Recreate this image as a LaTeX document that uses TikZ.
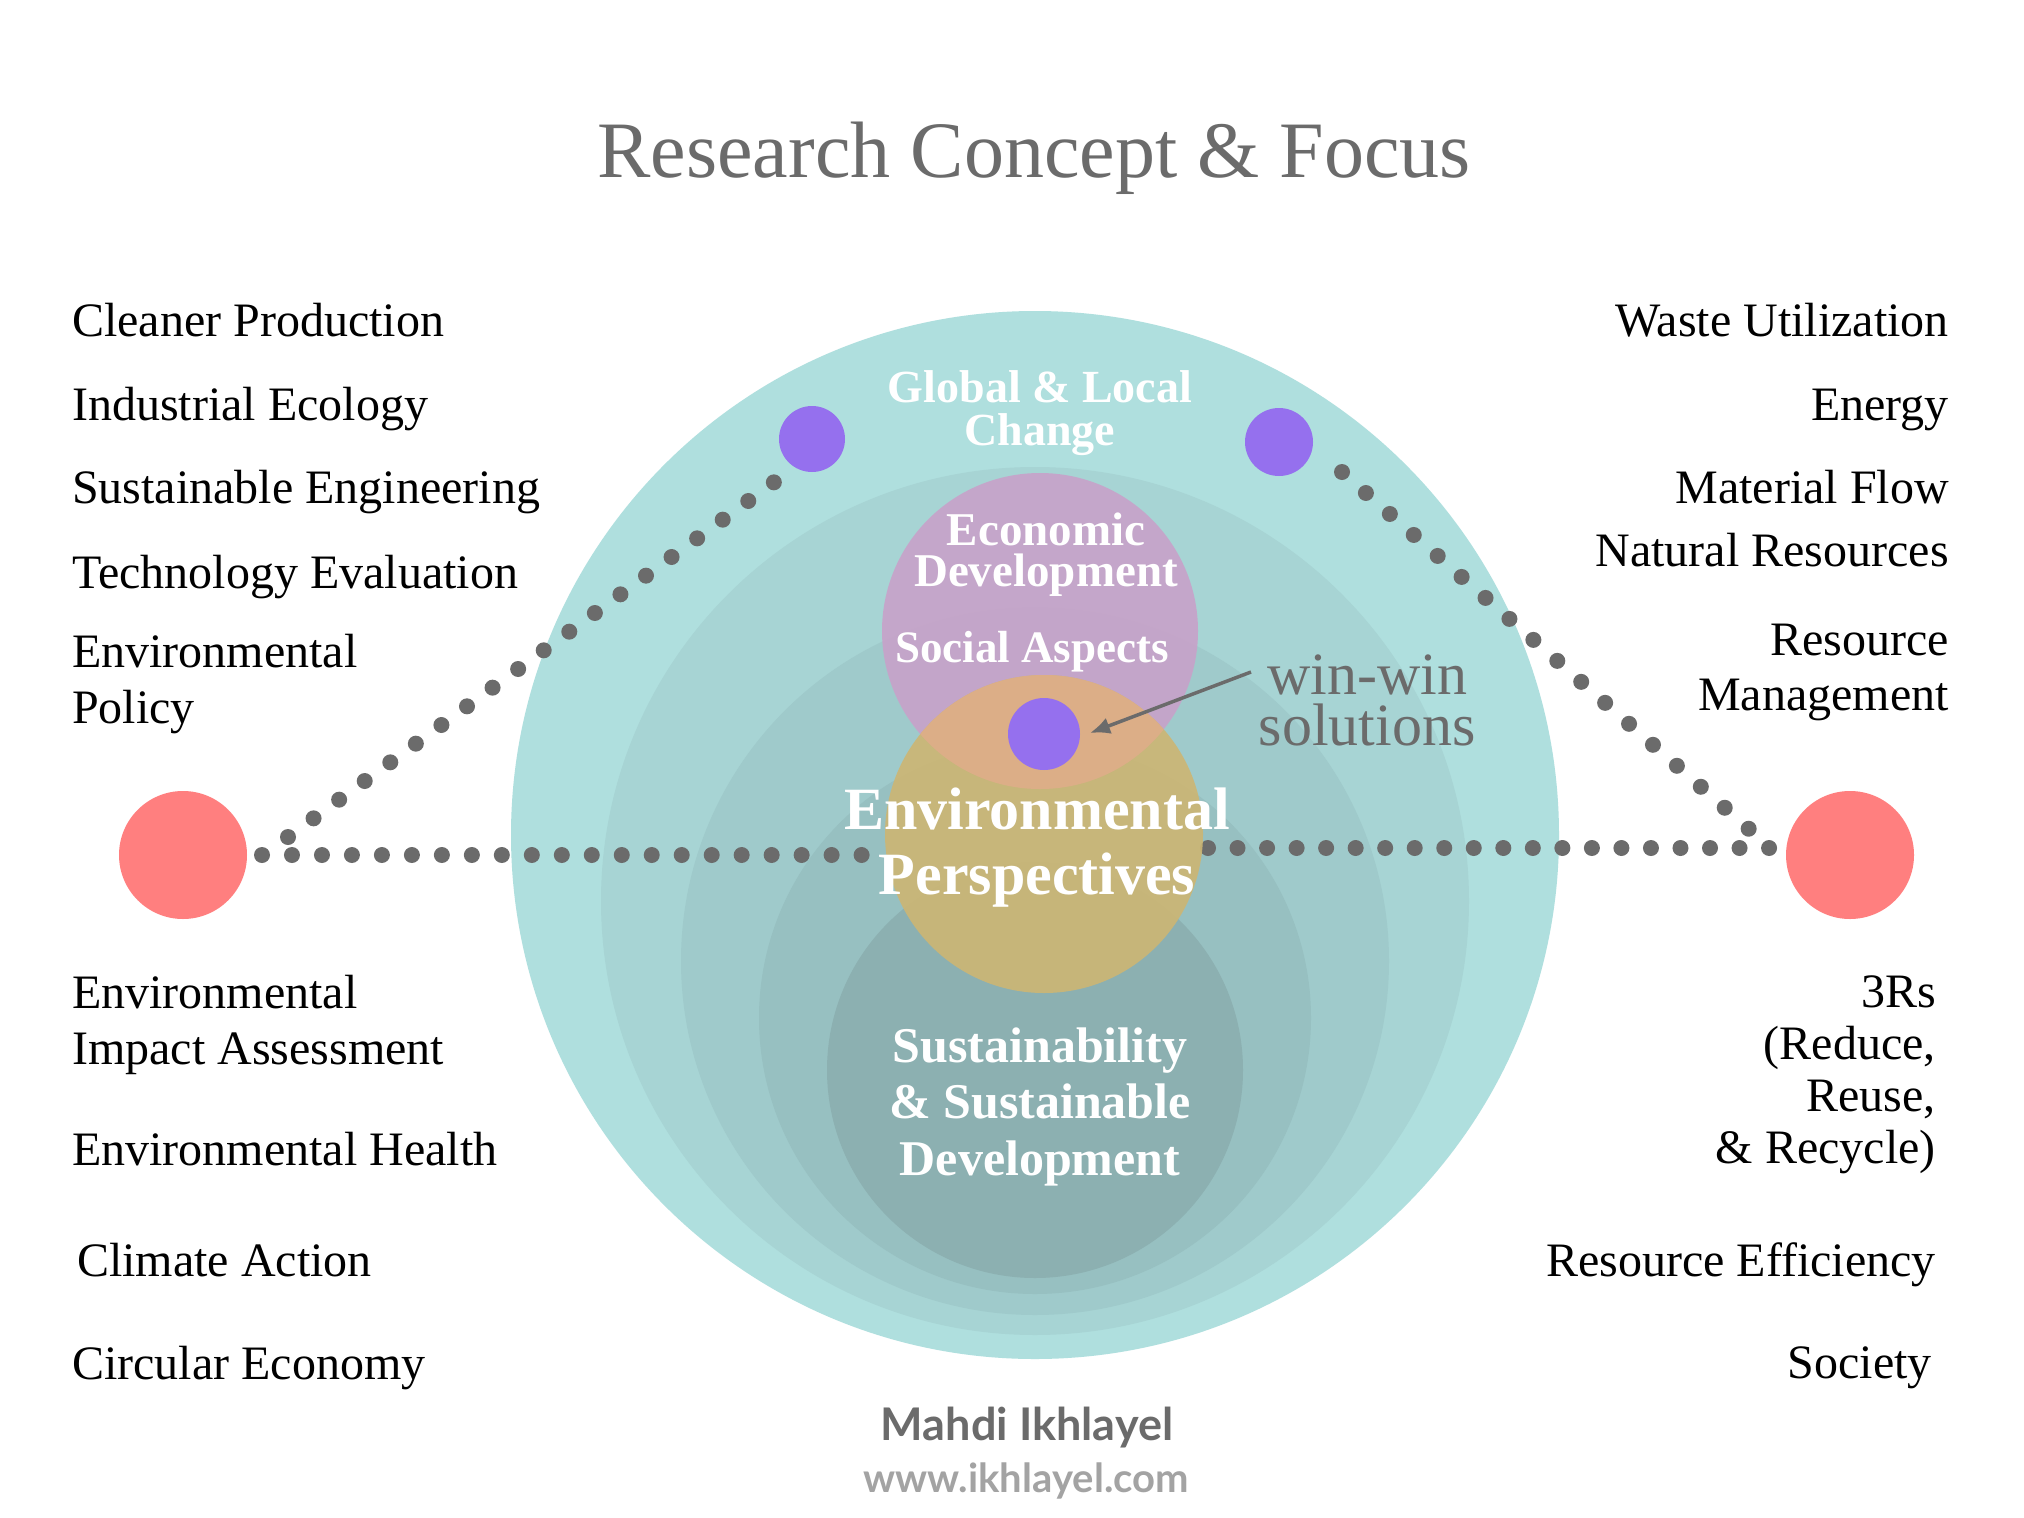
\documentclass[tikz,border=0pt]{standalone}
\usepackage{fontspec}
\setmainfont{Liberation Serif}
\newfontfamily\latofont{Lato}
\usetikzlibrary{arrows.meta}
\definecolor{tealA}{HTML}{AFDFDE}
\definecolor{tealB}{HTML}{A7D4D4}
\definecolor{tealC}{HTML}{9FCACB}
\definecolor{tealD}{HTML}{97C0C1}
\definecolor{tealE}{HTML}{8CB0B1}
\definecolor{ecoP}{HTML}{C8A2C9}
\definecolor{envY}{HTML}{CDB673}
\definecolor{overO}{HTML}{DDAE88}
\definecolor{dotP}{HTML}{9570EE}
\definecolor{redC}{HTML}{FF7F7F}
\definecolor{greyT}{HTML}{6B6B6B}
\definecolor{greyL}{HTML}{A3A3A3}
\begin{document}
\begin{tikzpicture}[x=1pt,y=-1pt,
  disc/.style={circle,inner sep=0pt,outer sep=0pt,draw=none},
  dotline/.style={line width=16pt,line cap=round,color=greyT},
  inlabel/.style={text=white,align=center,anchor=base,inner sep=0pt},
  sideL/.style={font=\fontsize{48}{56}\selectfont,anchor=base west,align=left,inner sep=0pt},
  sideR/.style={font=\fontsize{48}{55}\selectfont,anchor=base east,align=right,inner sep=0pt}]
\useasboundingbox (0,0) rectangle (2024,1518);
\fill[white] (0,0) rectangle (2024,1518);

% nested teal circles
\node[disc,fill=tealA,minimum size=1048pt] (c1) at (1035,835) {};
\node[disc,fill=tealB,minimum size=868pt] (c2) at (1035,901) {};
\node[disc,fill=tealC,minimum size=708pt] (c3) at (1035,961) {};
\node[disc,fill=tealD,minimum size=552pt] (c4) at (1035,1018) {};
\node[disc,fill=tealE,minimum size=416pt] (c5) at (1035,1070) {};

% red circles
\node[disc,fill=redC,minimum size=128pt] (redL) at (183,855) {};
\node[disc,fill=redC,minimum size=128pt] (redR) at (1850,855) {};

% purple dots
\node[disc,fill=dotP,minimum size=66pt] (pTL) at (812,439) {};
\node[disc,fill=dotP,minimum size=68pt] (pTR) at (1279,442) {};

% dotted connectors
\coordinate (hLe) at (862,855);
\coordinate (hRs) at (1208,848);
\coordinate (hRe) at (1769.5,848);
\coordinate (dLs) at (288,837);
\coordinate (dLe) at (774.3,482);
\coordinate (dRs) at (1342,472);
\coordinate (dRe) at (1749.3,829.3);
\draw[dotline,dash pattern=on 0pt off 29.98pt] ([xshift=15pt]redL.east) -- (hLe);
\draw[dotline,dash pattern=on 0pt off 29.53pt] (hRs) -- (hRe);
\draw[dotline,dash pattern=on 0pt off 31.66pt] (dLs) -- (dLe);
\draw[dotline,dash pattern=on 0pt off 31.82pt] (dRs) -- (dRe);

% economic / environmental circles
\node[disc,fill=ecoP,fill opacity=0.9,minimum size=316pt] (eco) at (1040,631) {};
\node[disc,fill=envY,fill opacity=0.9,minimum size=318pt] (env) at (1044,834) {};
\begin{scope}
  \clip (1040,631) circle (158pt);
  \fill[overO,fill opacity=0.95] (1044,834) circle (159pt);
\end{scope}

% centre dot
\node[disc,fill=dotP,minimum size=72pt] (pC) at (1044,734) {};

% arrow
\coordinate (aS) at (1251,672);
\coordinate (aE) at (1090,733);
\draw[greyT,line width=3.5pt,-{Latex[length=20pt,width=17pt]}] (aS) -- (aE);

% labels inside circles (base anchor = last line)
\node[inlabel,font=\bfseries\fontsize{46}{43}\selectfont] (glob) at (1040,445) {Global \& Local\\Change};
\node[inlabel,font=\bfseries\fontsize{47}{41}\selectfont] (ecot) at (1046,586) {Economic\\Development};
\node[inlabel,font=\bfseries\fontsize{45}{54}\selectfont] (soc) at (1032,662) {Social Aspects};
\node[inlabel,font=\bfseries\fontsize{60}{65}\selectfont] (envt) at (1037,894) {Environmental\\Perspectives};
\node[inlabel,font=\bfseries\fontsize{50}{56.5}\selectfont] (sust) at (1040,1175) {Sustainability\\\& Sustainable\\Development};

% win-win
\node[font=\fontsize{60}{51}\selectfont,text=greyT,align=center,anchor=base,inner sep=0pt] (win) at (1367,745) {win-win\\solutions};

% title
\node[font=\fontsize{80}{96}\selectfont,text=greyT,anchor=base,inner sep=0pt] (title) at (1034,177) {Research Concept \& Focus};

% left texts
\node[sideL] (l1) at (72,336) {Cleaner Production};
\node[sideL] (l2) at (72,420) {Industrial Ecology};
\node[sideL] (l3) at (72,503) {Sustainable Engineering};
\node[sideL] (l4) at (72,588) {Technology Evaluation};
\node[sideL] (l5) at (72,723) {Environmental\\Policy};
\node[sideL] (l6) at (72,1064) {Environmental\\Impact Assessment};
\node[sideL] (l7) at (72,1165) {Environmental Health};
\node[sideL] (l8) at (77,1276) {Climate Action};
\node[sideL] (l9) at (72,1379) {Circular Economy};

% right texts
\node[sideR] (r1) at (1949,336) {Waste Utilization};
\node[sideR] (r2) at (1949,420) {Energy};
\node[sideR] (r3) at (1949,503) {Material Flow};
\node[sideR] (r4) at (1949,566) {Natural Resources};
\node[sideR] (r5) at (1949,710) {Resource\\Management};
\node[sideR,font=\fontsize{48}{51.7}\selectfont] (r6) at (1936,1163) {3Rs\\(Reduce,\\Reuse,\\\& Recycle)};
\node[sideR] (r7) at (1936,1276) {Resource Efficiency};
\node[sideR] (r8) at (1932,1378) {Society};

% footer
\node[font=\latofont\bfseries\fontsize{45}{54}\selectfont,text=greyT,anchor=base,inner sep=0pt] (author) at (1027,1440) {Mahdi Ikhlayel};
\node[font=\latofont\bfseries\fontsize{40}{48}\selectfont,text=greyL,anchor=base,inner sep=0pt] (url) at (1026,1492) {www.ikhlayel.com};
\end{tikzpicture}
\end{document}
